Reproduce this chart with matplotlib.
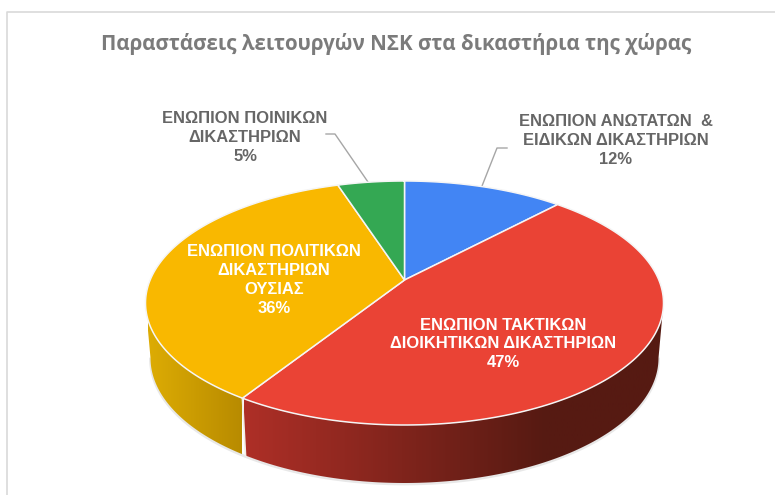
import numpy as np
import matplotlib
matplotlib.use("Agg")
import matplotlib.pyplot as plt
from matplotlib.colors import LinearSegmentedColormap
from matplotlib.patches import Polygon

titleText = "Παραστάσεις λειτουργών ΝΣΚ στα δικαστήρια της χώρας"

categories = [
    "ΕΝΩΠΙΟΝ ΑΝΩΤΑΤΩΝ  &\nΕΙΔΙΚΩΝ ΔΙΚΑΣΤΗΡΙΩΝ",
    "ΕΝΩΠΙΟΝ ΤΑΚΤΙΚΩΝ\nΔΙΟΙΚΗΤΙΚΩΝ ΔΙΚΑΣΤΗΡΙΩΝ",
    "ΕΝΩΠΙΟΝ ΠΟΛΙΤΙΚΩΝ\nΔΙΚΑΣΤΗΡΙΩΝ\nΟΥΣΙΑΣ",
    "ΕΝΩΠΙΟΝ ΠΟΙΝΙΚΩΝ\nΔΙΚΑΣΤΗΡΙΩΝ",
]
values = [12, 47, 36, 5]
topColors = ["#4285F4", "#EA4335", "#F9B800", "#34A853"]

# pie position on the page, in pixels
centerX = 404.5
topCenterY = 303
topRx = 259
topRy = 122
bottomCenterY = 358
bottomRx = 254
bottomRy = 125
tilt = 0.1885  # moves the apex up, like the perspective in the original


def project(theta):
    """theta is clockwise from 12 o'clock, returns unit ellipse coordinates"""
    x = np.sin(theta)
    y = np.cos(theta)
    d = 1 + tilt * y
    return x * np.sqrt(1 - tilt ** 2) / d, (y + tilt) / d


def topRim(theta):
    x, y = project(theta)
    return centerX + topRx * x, topCenterY - topRy * y


def bottomRim(theta):
    x, y = project(theta)
    return centerX + bottomRx * x, bottomCenterY - bottomRy * y


def wallPoints(a, b):
    t = np.linspace(a, b, 200)
    x1, y1 = topRim(t)
    x2, y2 = bottomRim(t[::-1])
    return np.column_stack([np.r_[x1, x2], np.r_[y1, y2]])


def drawWall(ax, a, b, x0, x1, colors):
    cmap = LinearSegmentedColormap.from_list("wall", colors)
    grad = np.linspace(0, 1, 256).reshape(1, -1)
    img = ax.imshow(grad, cmap=cmap, extent=(x0, x1, 495, 0), aspect="auto", zorder=2)
    patch = Polygon(wallPoints(a, b), closed=True, transform=ax.transData,
                    facecolor="none", edgecolor="none")
    ax.add_patch(patch)
    img.set_clip_path(patch)


fig = plt.figure(figsize=(7.75, 4.95), dpi=100)
ax = fig.add_axes([0, 0, 1, 1])

# page frame
ax.plot([6.5, 6.5, 775], [495, 11.5, 11.5], color="#D9D9D9", lw=1.2, zorder=1)

fractions = np.array(values) / sum(values)
edges = np.r_[0, np.cumsum(fractions)] * 2 * np.pi

# theta where the rim is at its right and left ends
rightEnd = np.arccos(-tilt)
leftEnd = 2 * np.pi - rightEnd

# soft shadow under the side
t = np.linspace(rightEnd, leftEnd, 300)
sx, sy = bottomRim(t)
ax.plot(sx, sy + 1, color="#E8E8E8", lw=2, zorder=1.5)

drawWall(ax, rightEnd, edges[2], 244, 663,
         [(0, "#AE2F27"), (0.72, "#561A12"), (1, "#561A12")])
drawWall(ax, edges[2], leftEnd, 148, 242, ["#DDAC04", "#B88B00"])

bx, by = topRim(edges[2])
cx, cy = bottomRim(edges[2])
ax.plot([bx, cx], [by, cy], color="#F2EDE4", lw=1.2, zorder=3)

for i, color in enumerate(topColors):
    t = np.linspace(edges[i], edges[i + 1], 150)
    x, y = topRim(t)
    apexX, apexY = centerX, topCenterY - topRy * tilt
    pts = np.column_stack([np.r_[apexX, x], np.r_[apexY, y]])
    ax.add_patch(Polygon(pts, closed=True, facecolor=color, edgecolor="#F5F5F5",
                         lw=1.1, joinstyle="round", zorder=4))

# leader lines
ax.plot([326, 335, 368], [134, 134, 182], color="#A6A6A6", lw=1.0, zorder=3)
ax.plot([507, 497, 482], [148, 148, 186], color="#A6A6A6", lw=1.0, zorder=3)

labelFont = dict(family="Liberation Sans", fontweight="bold", fontsize=11.9,
                 ha="center", va="center", linespacing=1.32, zorder=6)
labelSpots = [(616, 140.5), (503, 344), (274, 280), (245, 137.5)]
labelColors = ["#666666", "white", "white", "#666666"]
for name, value, spot, color in zip(categories, values, labelSpots, labelColors):
    ax.text(spot[0], spot[1], "%s\n%d%%" % (name, value), color=color, **labelFont)

ax.text(396.5, 44, titleText, family="Open Sans", fontweight="bold", fontsize=14.8,
        color="#7B7B7B", ha="center", va="center", zorder=6)

ax.set_xlim(0, 775)
ax.set_ylim(495, 0)
ax.axis("off")
fig.savefig("out.png", dpi=100, facecolor="white")
